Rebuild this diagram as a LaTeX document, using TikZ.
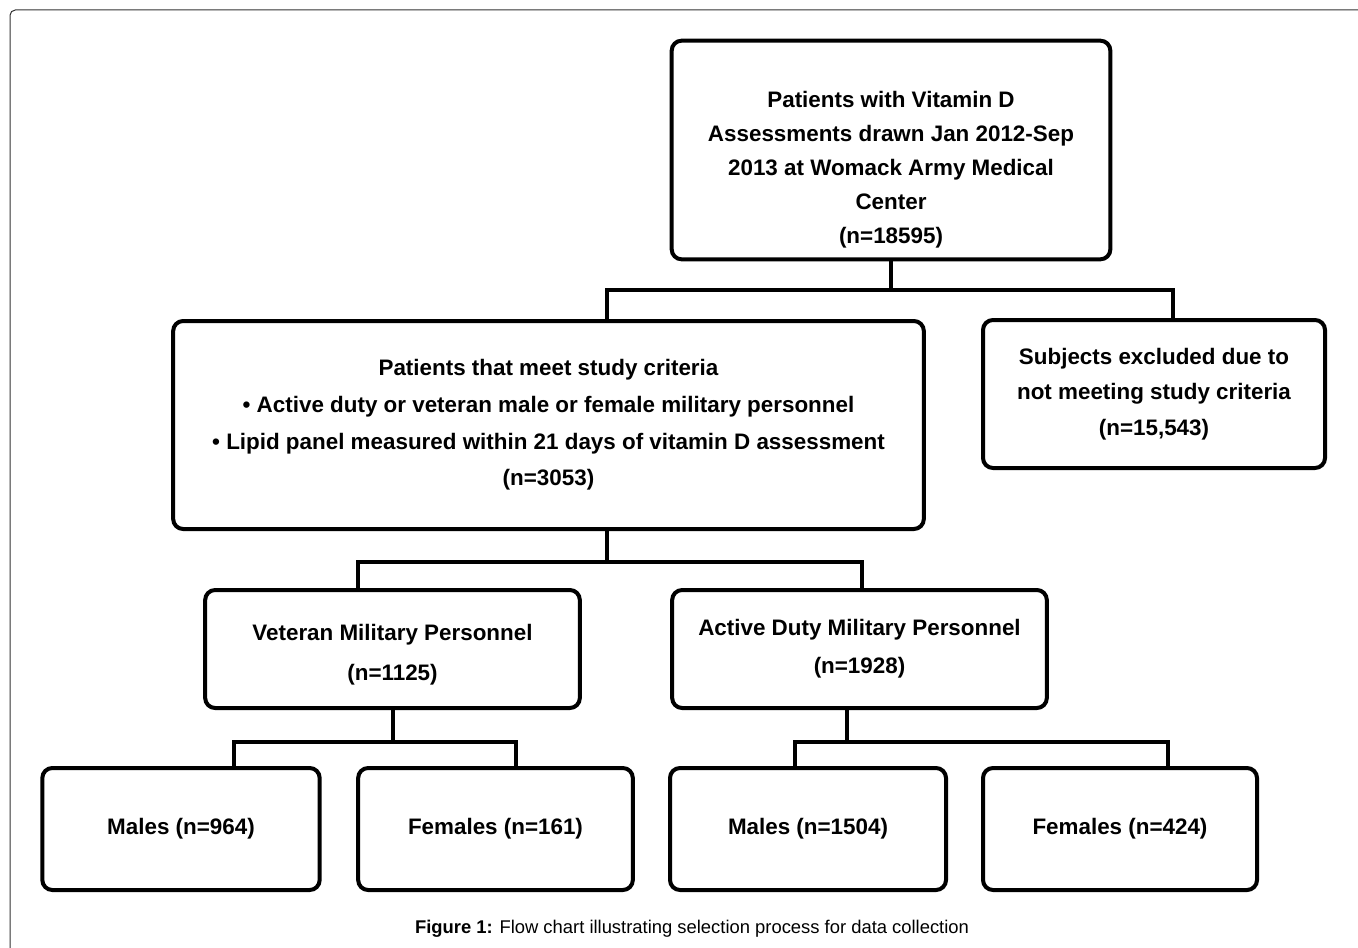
\documentclass[tikz,border=0pt]{standalone}
\usepackage{fontspec}
\setmainfont{Liberation Sans}
\usetikzlibrary{calc}

\begin{document}
\begin{tikzpicture}[
    x=0.75pt, y=-0.75pt,
    box/.style={rectangle, draw, line width=3pt, rounded corners=7.5pt, align=center, inner sep=0pt, font=\bfseries\fontsize{16.8}{25.5}\selectfont},
    link/.style={line width=3pt},
    frame/.style={draw=black!80, line width=0.75pt, rounded corners=4pt}
]
\useasboundingbox (0,0) rectangle (1358,948);
\draw[frame] (1370,10) -- (10,10) -- (10,960);

\node[box, minimum width=329pt, minimum height=164pt] (vitd) at (891,150) {\rule{0pt}{41pt}Patients with Vitamin D\\ Assessments drawn Jan 2012-Sep\\ 2013 at Womack Army Medical\\ Center\\ (n=18595)};
\node[box, minimum width=563pt, minimum height=156pt, font=\bfseries\fontsize{16.8}{27.5}\selectfont] (crit) at (548.5,425) {Patients that meet study criteria\\ \textbullet{} Active duty or veteran male or female military personnel\\ \textbullet{} Lipid panel measured within 21 days of vitamin D assessment\\ (n=3053)};
\node[box, minimum width=256.5pt, minimum height=111pt, font=\bfseries\fontsize{16.8}{26.5}\selectfont] (excl) at (1154,394) {Subjects excluded due to\\ not meeting study criteria\\ (n=15,543)};

\node[box, minimum width=281pt, minimum height=88.5pt, font=\bfseries\fontsize{16.8}{30}\selectfont] (vet) at (392.5,649) {\rule{0pt}{21pt}Veteran Military Personnel\\ (n=1125)};
\node[box, minimum width=281pt, minimum height=88.5pt, font=\bfseries\fontsize{16.8}{28.5}\selectfont] (act) at (859.5,649) {Active Duty Military Personnel\\ (n=1928)};

\node[box, minimum width=208pt, minimum height=91.5pt] (mv) at (181,829) {Males (n=964)};
\node[box, minimum width=206pt, minimum height=91.5pt] (fv) at (495.5,829) {Females (n=161)};
\node[box, minimum width=207pt, minimum height=91.5pt] (ma) at (808,829) {Males (n=1504)};
\node[box, minimum width=205.5pt, minimum height=91.5pt] (fa) at (1120,829) {Females (n=424)};

% connectors
\draw[link] (vitd.south) -- ++(0,29) coordinate (j1);
\draw[link] ($(crit.north)+(58.5,0)$) |- (j1) -| ($(excl.north)+(19,0)$);
\draw[link] ($(crit.south)+(58.5,0)$) -- ++(0,31) coordinate (j2);
\draw[link] ($(vet.north)+(-34.5,0)$) |- (j2) -| ($(act.north)+(2.5,0)$);
\draw[link] (vet.south) -- ++(0,32) coordinate (j3);
\draw[link] ($(mv.north)+(53,0)$) |- (j3) -| ($(fv.north)+(20.5,0)$);
\draw[link] ($(act.south)+(-12.5,0)$) -- ++(0,32) coordinate (j4);
\draw[link] ($(ma.north)+(-13,0)$) |- (j4) -| ($(fa.north)+(48,0)$);

\node[font=\fontsize{13.8}{16}\selectfont] (cap) at (692,929) {\textbf{Figure 1:} Flow chart illustrating selection process for data collection};
\end{tikzpicture}
\end{document}
